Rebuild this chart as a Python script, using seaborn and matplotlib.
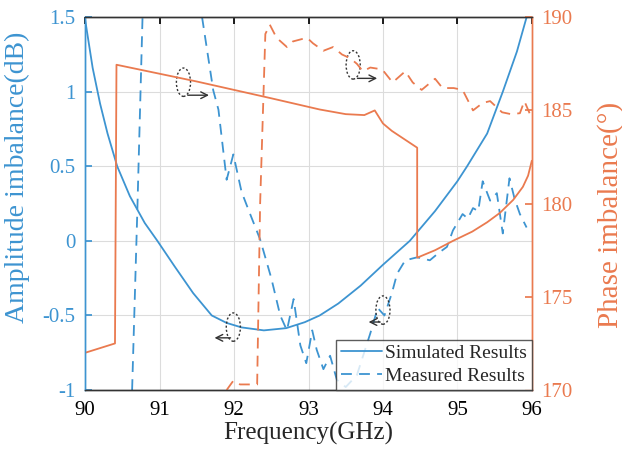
import numpy as np
import pandas as pd
import seaborn as sns
import matplotlib.pyplot as plt
from matplotlib.patches import Ellipse
from matplotlib.lines import Line2D

# simulated amplitude imbalance (dB)
sim_amp_f = [90.0, 90.1, 90.2, 90.3, 90.43, 90.6, 90.8, 90.97, 91.2, 91.45, 91.7, 91.9,
             92.1, 92.4, 92.7, 92.95, 93.15, 93.4, 93.7, 94.0, 94.36, 94.7, 95.0, 95.13,
             95.4, 95.61, 95.8, 95.93]
sim_amp = [1.48, 1.16, 0.92, 0.72, 0.5, 0.3, 0.12, 0.0, -0.17, -0.35, -0.5, -0.55,
           -0.58, -0.6, -0.585, -0.545, -0.5, -0.42, -0.3, -0.16, 0.0, 0.2, 0.4, 0.5,
           0.72, 1.0, 1.27, 1.5]

# simulated phase imbalance (deg)
sim_ph_f = [90.0, 90.40, 90.42, 91.5, 92.5, 93.15, 93.5, 93.75, 93.89, 94.0, 94.12, 94.46,
            94.46, 94.7, 94.94, 95.2, 95.4, 95.57, 95.75, 95.88, 95.95, 96.0]
sim_ph = [172.0, 172.5, 187.45, 186.55, 185.65, 185.05, 184.8, 184.75, 185.0, 184.3, 183.9, 183.0,
          177.1, 177.5, 178.0, 178.5, 179.0, 179.5, 180.2, 180.9, 181.5, 182.3]

# measured amplitude imbalance (dB), two visible pieces
meas_amp_f1 = [90.63, 90.70, 90.77]
meas_amp1 = [-1.0, 0.2, 1.5]
meas_amp_f2 = [91.57, 91.72, 91.79, 91.9, 91.99, 92.1, 92.2, 92.35, 92.5, 92.62, 92.71, 92.8,
               92.89, 92.97, 93.05, 93.11, 93.2, 93.29, 93.38, 93.5, 93.65, 93.83, 93.93, 94.02,
               94.12, 94.19, 94.3, 94.46, 94.63, 94.75, 94.86, 94.94, 95.07, 95.14, 95.21, 95.28,
               95.34, 95.44, 95.53, 95.61, 95.7, 95.77, 95.84, 95.93]
meas_amp2 = [1.5, 1.01, 0.88, 0.41, 0.58, 0.33, 0.2, 0.01, -0.25, -0.5, -0.6, -0.39,
             -0.7, -0.82, -0.6, -0.73, -0.86, -0.77, -0.93, -0.98, -0.9, -0.62, -0.45, -0.5,
             -0.35, -0.22, -0.13, -0.11, -0.13, -0.08, -0.04, 0.07, 0.18, 0.15, 0.22, 0.2,
             0.4, 0.27, 0.32, 0.05, 0.42, 0.28, 0.18, 0.09]

# measured phase imbalance (deg)
meas_ph_f = [91.9, 91.99, 92.08, 92.2, 92.31, 92.35, 92.42, 92.48, 92.57, 92.71, 92.79, 92.98,
             93.06, 93.2, 93.33, 93.45, 93.56, 93.65, 93.73, 93.83, 93.99, 94.13, 94.3, 94.4,
             94.52, 94.7, 94.8, 94.95, 95.07, 95.21, 95.34, 95.44, 95.6, 95.72, 95.84, 95.9, 95.97]
meas_ph = [170.0, 170.5, 170.3, 170.3, 170.3, 180.0, 189.1, 189.6, 188.9, 188.4, 188.7, 188.9,
           188.6, 188.2, 188.4, 188.0, 187.8, 187.5, 187.1, 187.3, 187.2, 186.5, 187.1, 186.5,
           186.1, 186.7, 186.2, 186.2, 186.1, 185.0, 185.4, 185.5, 184.9, 184.8, 184.85, 185.5, 184.85]

blue = '#3d94d1'
orange = '#ea7a4f'

sns.set_theme(style='white')
plt.rcParams['font.family'] = ['Liberation Serif', 'DejaVu Serif']

fig = plt.figure(figsize=(6.22, 4.53), dpi=100)
ax = fig.add_axes([0.137, 0.139, 0.718, 0.823])
ax2 = ax.twinx()

dash = (0, (6, 4))
kw = dict(estimator=None, sort=False, errorbar=None, lw=1.3)
sns.lineplot(x=sim_amp_f, y=sim_amp, ax=ax, color=blue, **kw)
sns.lineplot(x=meas_amp_f1, y=meas_amp1, ax=ax, color=blue, ls=dash, **kw)
sns.lineplot(x=meas_amp_f2, y=meas_amp2, ax=ax, color=blue, ls=dash, **kw)
sns.lineplot(x=sim_ph_f, y=sim_ph, ax=ax2, color=orange, **kw)
sns.lineplot(x=meas_ph_f, y=meas_ph, ax=ax2, color=orange, ls=dash, **kw)

ax.set_xlim(90, 96)
ax.set_ylim(-1, 1.5)
ax2.set_ylim(170, 190)
ax.set_xticks(range(90, 97))
ax.set_yticks([-1, -0.5, 0, 0.5, 1, 1.5])
ax.set_yticklabels(['-1', '-0.5', '0', '0.5', '1', '1.5'])
ax2.set_yticks([170, 175, 180, 185, 190])
ax.grid(True, color='#dcdcdc', lw=0.8)

ax.tick_params(axis='x', direction='in', top=True, length=5, labelsize=15, colors='black', pad=8)
ax.tick_params(axis='y', direction='in', length=5, labelsize=15, colors=blue, pad=7)
ax2.tick_params(axis='y', direction='in', length=5, labelsize=15, colors=orange, pad=7)
for a in (ax, ax2):
    for s in a.spines.values():
        s.set_linewidth(1.0)
    a.spines['top'].set_color('#333333')
    a.spines['bottom'].set_color('#333333')
ax.spines['left'].set_color(blue)
ax2.spines['left'].set_color(blue)
ax2.spines['right'].set_color(orange)
ax.spines['right'].set_color(orange)

ax.set_xlabel('Frequency(GHz)', fontsize=18, labelpad=1)
ax.set_ylabel('Amplitude imbalance(dB)', fontsize=20, color=blue)
ax2.set_ylabel('Phase imbalance(°)', fontsize=21, color=orange)
ax.yaxis.set_label_coords(-0.123, 0.57)
ax2.yaxis.set_label_coords(1.145, 0.47)

# dotted ellipses with arrows
marks = [((91.32, 1.064), (91.34, 0.977), (91.70, 0.977)),
         ((93.6, 1.18), (93.62, 1.09), (93.96, 1.09)),
         ((91.99, -0.578), (91.99, -0.65), (91.70, -0.65)),
         ((94.0, -0.464), (94.0, -0.544), (93.77, -0.544))]
for c, start, end in marks:
    ax.add_patch(Ellipse(c, 0.19, 0.19, fill=False, ls=(0, (1.5, 1.5)), lw=1.0,
                         ec='#333333', zorder=5))
    ax.annotate('', xy=end, xytext=start,
                arrowprops=dict(arrowstyle='->', color='#333333', lw=1.0), zorder=5)

handles = [Line2D([], [], color=blue, lw=1.3),
           Line2D([], [], color=blue, lw=1.3, ls=dash)]
leg = ax2.legend(handles, ['Simulated Results', 'Measured Results'], loc='lower right',
                 fontsize=14, frameon=True, fancybox=False, edgecolor='#333333',
                 borderpad=0.25, handlelength=2.1, handletextpad=0.15, labelspacing=0.28,
                 borderaxespad=0.0)
leg.get_frame().set_linewidth(1.0)

fig.savefig('out.png', dpi=100)
